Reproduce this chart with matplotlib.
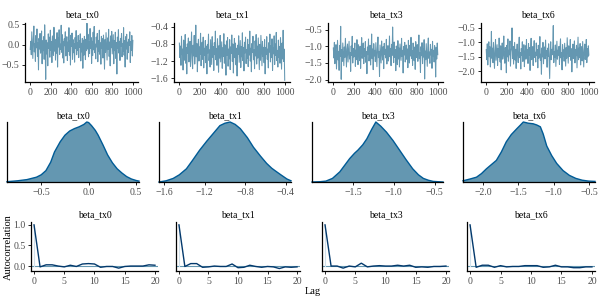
import numpy as np
import matplotlib
matplotlib.use("Agg")
import matplotlib.pyplot as plt

plt.rcParams['font.family'] = ['Liberation Serif', 'DejaVu Serif']

params = ["beta_tx0", "beta_tx1", "beta_tx3", "beta_tx6"]

# ---- trace draws (every 5th iteration) ----
trace_tx0 = [
    -0.12, 0.08, -0.25, 0.31, -0.05, -0.34, 0.12, 0.45, -0.18, 0.02,
    -0.41, 0.22, -0.08, 0.38, -0.29, 0.05, -0.62, 0.15, -0.11, 0.27,
    -0.21, -0.02, 0.33, -0.47, 0.09, -0.15, 0.19, -0.36, 0.48, -0.07,
    -0.85, 0.11, -0.23, 0.04, -0.52, 0.26, -0.09, 0.18, -0.31, 0.35,
    -0.14, 0.07, -0.44, 0.21, -0.02, -0.27, 0.42, -0.16, 0.13, -0.38,
    0.03, -0.21, 0.29, -0.55, 0.16, -0.06, 0.36, -0.24, 0.01, -0.12,
    0.47, -0.19, 0.24, -0.33, 0.08, -0.45, 0.14, -0.03, 0.31, -0.28,
    -0.08, 0.19, -0.39, 0.06, -0.17, 0.41, -0.26, 0.1, -0.5, 0.23,
    -0.04, 0.28, -0.36, 0.12, -0.2, 0.02, -0.43, 0.17, -0.1, 0.34,
    -0.25, 0.05, -0.14, 0.22, -0.32, 0.09, -0.07, 0.26, -0.4, 0.03,
    -0.18, 0.15, -0.58, 0.11, -0.26, 0.2, -0.05, -0.37, 0.13, -0.15,
    0.52, -0.11, 0.25, -0.3, 0.07, -0.22, 0.39, -0.09, 0.17, -0.46,
    0.08, -0.27, 0.3, -0.13, 0.44, -0.2, 0.01, -0.35, 0.18, -0.06,
    0.27, -0.42, 0.1, -0.16, 0.35, -0.24, 0.04, -0.48, 0.2, -0.1,
    0.14, -0.33, 0.23, -0.07, -0.6, 0.12, -0.19, 0.29, -0.03, -0.38,
    0.16, -0.12, 0.37, -0.29, 0.06, -0.52, 0.21, -0.08, 0.32, -0.23,
    -0.01, 0.24, -0.47, 0.1, -0.15, 0.3, -0.34, 0.05, -0.72, 0.18,
    -0.09, 0.36, -0.21, 0.08, -0.39, 0.15, -0.04, 0.27, -0.3, 0.02,
    -0.17, 0.41, -0.26, 0.09, -0.55, 0.19, -0.11, 0.25, -0.36, 0.06,
    -0.2, 0.13, -0.02, 0.31, -0.44, 0.07, -0.14, 0.22, -0.28, 0.1]
trace_tx1 = [
    -0.78, -1.12, -0.85, -1.3, -0.62, -1.05, -0.92, -1.41, -0.71, -1.0,
    -1.18, -0.58, -1.25, -0.88, -1.5, -0.8, -1.02, -0.66, -1.22, -0.95,
    -0.74, -1.33, -0.9, -0.52, -1.15, -1.38, -0.83, -1.08, -0.6, -1.27,
    -0.97, -0.36, -1.1, -0.79, -1.45, -0.93, -0.69, -1.2, -0.87, -1.04,
    -0.55, -1.31, -0.98, -0.76, -1.16, -0.64, -1.36, -0.9, -1.07, -0.72,
    -1.24, -0.85, -1.5, -0.81, -1.01, -0.57, -1.19, -0.94, -1.34, -0.7,
    -0.99, -1.28, -0.63, -1.11, -0.86, -1.42, -0.77, -1.05, -0.5, -1.17,
    -0.91, -1.3, -0.68, -1.03, -1.46, -0.84, -1.13, -0.6, -1.22, -0.96,
    -0.75, -1.37, -0.89, -1.09, -0.56, -1.25, -0.82, -1.0, -1.53, -0.73,
    -1.06, -0.65, -1.32, -0.92, -1.15, -0.7, -1.4, -0.87, -1.02, -0.59,
    -1.21, -0.8, -1.48, -0.95, -0.67, -1.12, -0.78, -1.29, -0.9, -1.55,
    -0.83, -1.04, -0.61, -1.23, -0.97, -0.72, -1.35, -0.86, -1.1, -0.54,
    -1.19, -0.88, -1.43, -0.76, -1.01, -0.64, -1.26, -0.93, -1.14, -0.69,
    -1.33, -0.82, -1.06, -0.5, -1.2, -0.9, -1.45, -0.79, -1.0, -0.62,
    -1.17, -0.94, -1.38, -0.73, -1.08, -0.58, -1.27, -0.85, -1.13, -0.66,
    -1.02, -1.4, -0.81, -1.18, -0.6, -0.96, -1.31, -0.74, -1.09, -0.88,
    -1.24, -0.7, -1.5, -0.89, -1.05, -0.63, -1.16, -0.92, -1.36, -0.77,
    -0.99, -0.57, -1.22, -0.84, -1.11, -0.68, -1.42, -0.9, -1.03, -0.61,
    -1.28, -0.8, -1.07, -0.53, -1.19, -0.95, -1.34, -0.71, -1.12, -0.86,
    -1.25, -0.65, -1.0, -1.39, -0.78, -1.15, -0.48, -1.21, -0.92, -1.65]
trace_tx3 = [
    -1.05, -1.35, -0.88, -1.52, -1.12, -0.95, -1.68, -1.2, -0.82, -1.41,
    -1.15, -1.72, -0.98, -1.3, -0.4, -1.99, -1.1, -1.45, -0.9, -1.25,
    -1.58, -1.02, -1.33, -0.76, -1.2, -1.62, -1.08, -0.93, -1.47, -1.14,
    -0.85, -1.38, -1.18, -1.75, -0.99, -1.27, -0.7, -1.5, -1.06, -1.32,
    -1.22, -0.9, -1.6, -1.11, -1.4, -0.8, -1.28, -1.55, -0.95, -1.17,
    -1.43, -1.0, -1.66, -1.13, -0.74, -1.36, -1.21, -0.9, -1.52, -1.07,
    -1.3, -0.86, -1.48, -1.16, -1.82, -1.02, -1.25, -0.78, -1.44, -1.1,
    -0.97, -1.56, -1.19, -0.63, -1.37, -1.08, -1.7, -0.92, -1.29, -1.12,
    -1.46, -0.89, -1.23, -1.61, -1.04, -0.72, -1.34, -1.15, -1.9, -0.96,
    -1.26, -1.5, -0.84, -1.18, -1.41, -1.01, -1.67, -0.91, -1.24, -1.09,
    -1.35, -0.79, -1.53, -1.14, -0.98, -1.44, -1.2, -0.69, -1.31, -1.06,
    -1.58, -0.94, -1.27, -0.42, -1.17, -1.49, -0.87, -1.33, -1.1, -1.73,
    -0.99, -1.22, -1.55, -0.83, -1.38, -1.05, -1.62, -0.93, -1.19, -1.42,
    -0.76, -1.3, -1.12, -1.8, -1.0, -1.26, -0.88, -1.47, -1.16, -0.96,
    -1.39, -1.08, -1.64, -0.82, -1.21, -1.5, -0.97, -1.29, -0.73, -1.36,
    -1.13, -1.57, -0.9, -1.24, -1.43, -1.02, -1.69, -0.86, -1.18, -1.34,
    -0.95, -1.45, -1.11, -0.66, -1.37, -1.2, -1.78, -1.01, -1.28, -0.89,
    -1.52, -1.07, -1.32, -0.8, -1.98, -1.14, -1.4, -0.92, -1.23, -1.6,
    -1.04, -0.75, -1.36, -1.17, -1.51, -0.94, -1.26, -1.09, -1.66, -0.85,
    -1.3, -1.12, -1.47, -0.98, -1.21, -1.92, -1.03, -1.38, -0.9, -1.25]
trace_tx6 = [
    -1.25, -1.6, -1.05, -1.78, -1.32, -0.98, -1.5, -1.15, -1.85, -1.4,
    -0.62, -1.55, -1.2, -1.7, -1.0, -1.45, -1.9, -1.28, -0.9, -1.62,
    -1.35, -1.08, -1.8, -1.22, -1.52, -0.85, -1.42, -1.68, -1.12, -1.95,
    -1.3, -1.02, -1.58, -1.38, -0.78, -1.48, -1.72, -1.18, -1.4, -2.05,
    -1.1, -1.5, -0.88, -1.65, -1.27, -1.43, -0.95, -1.82, -1.33, -1.2,
    -0.5, -1.56, -1.14, -1.75, -1.36, -1.0, -1.61, -1.24, -1.9, -1.3,
    -1.06, -1.47, -1.7, -1.16, -0.82, -1.53, -1.35, -1.92, -1.21, -1.44,
    -0.98, -1.66, -1.29, -1.08, -1.84, -1.38, -1.12, -1.58, -0.9, -1.5,
    -1.26, -1.73, -1.04, -1.45, -1.18, -1.97, -1.32, -0.86, -1.6, -1.4,
    -1.15, -1.8, -1.22, -0.94, -1.52, -1.34, -1.68, -1.02, -1.46, -1.25,
    -1.88, -1.1, -1.55, -1.3, -0.8, -1.62, -1.41, -2.1, -1.19, -1.5,
    -1.0, -1.74, -1.33, -1.16, -1.57, -0.92, -1.45, -1.28, -1.86, -1.2,
    -1.48, -1.05, -1.67, -2.25, -1.36, -0.98, -1.6, -1.24, -1.43, -1.12,
    -0.42, -1.7, -1.31, -1.52, -1.09, -1.83, -1.38, -0.96, -1.58, -1.27,
    -1.44, -1.14, -1.76, -1.2, -0.88, -1.54, -1.35, -1.95, -1.08, -1.47,
    -1.26, -1.65, -1.03, -1.4, -1.82, -1.18, -1.55, -0.84, -1.3, -1.72,
    -1.12, -1.49, -1.36, -0.9, -1.62, -1.22, -2.02, -1.4, -1.06, -1.56,
    -1.33, -0.95, -1.71, -1.25, -1.46, -1.1, -1.88, -1.37, -0.82, -1.6,
    -1.2, -1.53, -1.04, -1.78, -1.34, -1.15, -1.64, -0.97, -1.42, -1.85,
    -1.28, -1.06, -1.59, -1.38, -0.9, -1.7, -1.22, -1.5, -1.12, -1.44]
traces = [trace_tx0, trace_tx1, trace_tx3, trace_tx6]
iterations = np.linspace(1, 1000, len(trace_tx0))

# ---- density curves (relative height) ----
dens_tx0_x = [-0.86, -0.75, -0.65, -0.55, -0.5, -0.45, -0.4, -0.36, -0.3, -0.25, -0.2, -0.15,
              -0.1, -0.05, -0.02, 0.0, 0.03, 0.07, 0.1, 0.15, 0.2, 0.25, 0.3, 0.35, 0.4, 0.45, 0.5, 0.53]
dens_tx0_y = [0.005, 0.02, 0.04, 0.08, 0.12, 0.19, 0.33, 0.5, 0.67, 0.78, 0.85, 0.89,
              0.92, 0.96, 1.0, 0.99, 0.94, 0.86, 0.78, 0.62, 0.45, 0.32, 0.22, 0.15, 0.09, 0.05, 0.025, 0.015]
dens_tx1_x = [-1.65, -1.58, -1.51, -1.45, -1.38, -1.32, -1.25, -1.18, -1.12, -1.05, -1.0, -0.95,
              -0.9, -0.85, -0.78, -0.72, -0.65, -0.59, -0.54, -0.5, -0.45, -0.39, -0.35]
dens_tx1_y = [0.0, 0.02, 0.06, 0.12, 0.22, 0.36, 0.53, 0.68, 0.8, 0.94, 0.98, 1.0,
              0.96, 0.89, 0.74, 0.58, 0.43, 0.31, 0.23, 0.18, 0.12, 0.05, 0.02]
dens_tx3_x = [-2.0, -1.9, -1.83, -1.75, -1.66, -1.6, -1.54, -1.48, -1.44, -1.38, -1.33, -1.27,
              -1.22, -1.16, -1.09, -1.01, -0.93, -0.85, -0.77, -0.7, -0.64, -0.58, -0.52, -0.46, -0.4]
dens_tx3_y = [0.0, 0.005, 0.015, 0.06, 0.17, 0.28, 0.39, 0.48, 0.53, 0.62, 0.72, 0.88,
              1.0, 0.93, 0.83, 0.69, 0.53, 0.37, 0.22, 0.12, 0.06, 0.03, 0.01, 0.005, 0.0]
dens_tx6_x = [-2.28, -2.18, -2.09, -2.02, -1.95, -1.88, -1.81, -1.74, -1.67, -1.6, -1.52, -1.47,
              -1.43, -1.36, -1.29, -1.24, -1.19, -1.15, -1.1, -1.03, -0.96, -0.87, -0.78, -0.69,
              -0.6, -0.51, -0.42]
dens_tx6_y = [0.02, 0.05, 0.08, 0.14, 0.22, 0.29, 0.36, 0.5, 0.67, 0.79, 0.89, 0.95,
              1.0, 0.98, 0.97, 0.95, 0.92, 0.8, 0.6, 0.44, 0.31, 0.19, 0.11, 0.06,
              0.03, 0.015, 0.01]
dens_x = [dens_tx0_x, dens_tx1_x, dens_tx3_x, dens_tx6_x]
dens_y = [dens_tx0_y, dens_tx1_y, dens_tx3_y, dens_tx6_y]
dens_ticks = [[-0.5, 0.0, 0.5], [-1.6, -1.2, -0.8, -0.4], [-1.5, -1.0, -0.5], [-2.0, -1.5, -1.0, -0.5]]

# ---- autocorrelation, lags 0..20 ----
lags = list(range(21))
acf_tx0 = [1.0, -0.02, 0.03, 0.03, 0.0, -0.02, 0.02, -0.01, 0.05, 0.06, 0.05, -0.03, -0.01,
           -0.01, -0.05, -0.01, 0.0, 0.0, 0.0, 0.03, 0.02]
acf_tx1 = [1.0, -0.01, 0.06, 0.06, -0.03, -0.02, 0.0, -0.01, -0.01, 0.05, -0.04, -0.03, 0.02,
           -0.01, -0.03, -0.01, -0.02, -0.06, -0.02, -0.03, -0.02]
acf_tx3 = [1.0, 0.0, 0.0, -0.05, 0.0, -0.02, 0.07, -0.02, 0.0, 0.01, 0.0, 0.0, 0.02,
           0.0, 0.02, -0.03, -0.02, -0.03, -0.01, -0.01, 0.0]
acf_tx6 = [1.0, -0.03, 0.02, 0.02, -0.03, 0.01, -0.02, -0.01, -0.01, 0.01, 0.01, 0.01, -0.03,
           -0.02, 0.02, -0.02, -0.02, -0.04, -0.04, -0.02, -0.02]
acfs = [acf_tx0, acf_tx1, acf_tx3, acf_tx6]

# ---- styling ----
MID = "#6497b1"
MID_HI = "#005b96"
DARK = "#03396c"
LIGHT = "#d1e1ec"
TICKC = "#4d4d4d"
W, H = 600, 300

fig = plt.figure(figsize=(6, 3), dpi=100)


def axes_px(l, r, t, b):
    return fig.add_axes([l / W, 1 - b / H, (r - l) / W, (b - t) / H])


def style(ax, left=True, yticks=True):
    for s in ("top", "right"):
        ax.spines[s].set_visible(False)
    ax.spines["bottom"].set_linewidth(0.9)
    ax.spines["left"].set_linewidth(0.9)
    ax.spines["left"].set_visible(left)
    ax.tick_params(direction="out", length=2.5, width=0.6, colors="black",
                   labelcolor=TICKC, labelsize=7, pad=1.5)
    if not yticks:
        ax.tick_params(axis="y", left=False, labelleft=False)
    ax.set_facecolor("none")


trace_cols = [(25, 138), (174, 290), (328, 443), (481, 594)]
trace_ylims = [(-0.915, 0.525), (-1.69, -0.31), (-2.07, -0.3), (-2.37, -0.33)]
trace_yticks = [[-0.5, 0.0, 0.5], [-1.6, -1.2, -0.8, -0.4], [-2.0, -1.5, -1.0, -0.5],
                [-2.0, -1.5, -1.0, -0.5]]
for i in range(4):
    l, r = trace_cols[i]
    ax = axes_px(l, r, 23, 82)
    ax.plot(iterations, traces[i], color=MID, lw=0.75)
    ax.set_xlim(-50, 1050)
    ax.set_ylim(*trace_ylims[i])
    ax.set_xticks([0, 200, 400, 600, 800, 1000])
    ax.set_yticks(trace_yticks[i])
    style(ax)
    ax.set_title(params[i], fontsize=7, pad=4)

dens_cols = [(7, 139), (159, 291), (312, 443), (463, 595)]
for i in range(4):
    l, r = dens_cols[i]
    ax = axes_px(l, r, 122, 182)
    ax.fill_between(dens_x[i], dens_y[i], 0, facecolor=MID, edgecolor="none")
    ax.plot(dens_x[i], dens_y[i], color=MID_HI, lw=1.0, clip_on=False)
    ax.set_xlim(dens_x[i][0], dens_x[i][-1])
    ax.set_ylim(0, 1.0)
    ax.set_xticks(dens_ticks[i])
    style(ax, yticks=False)
    ax.set_title(params[i], fontsize=7, pad=3)

acf_cols = [(31, 158), (176, 300), (322, 449), (467, 595)]
for i in range(4):
    l, r = acf_cols[i]
    ax = axes_px(l, r, 222, 271)
    ax.axhline(0, color=MID, lw=0.8, zorder=1)
    ax.plot([lags[0], lags[0]], [0, acfs[i][0]], color=LIGHT, lw=0.8, zorder=1)
    ax.plot(lags, acfs[i], color=DARK, lw=1.0, zorder=2)
    ax.set_xlim(-0.5, 20.5)
    ax.set_ylim(-0.12, 1.07)
    ax.set_xticks([0, 5, 10, 15, 20])
    ax.set_yticks([0.0, 0.5, 1.0])
    style(ax, yticks=(i == 0))
    ax.set_title(params[i], fontsize=7, pad=3.5)

fig.text(313 / W, 1 - 291 / H, "Lag", ha="center", va="center", fontsize=7.5)
fig.text(8 / W, 1 - 247 / H, "Autocorrelation", ha="center", va="center",
         rotation=90, fontsize=7.5)

fig.savefig("out.png", dpi=100)
